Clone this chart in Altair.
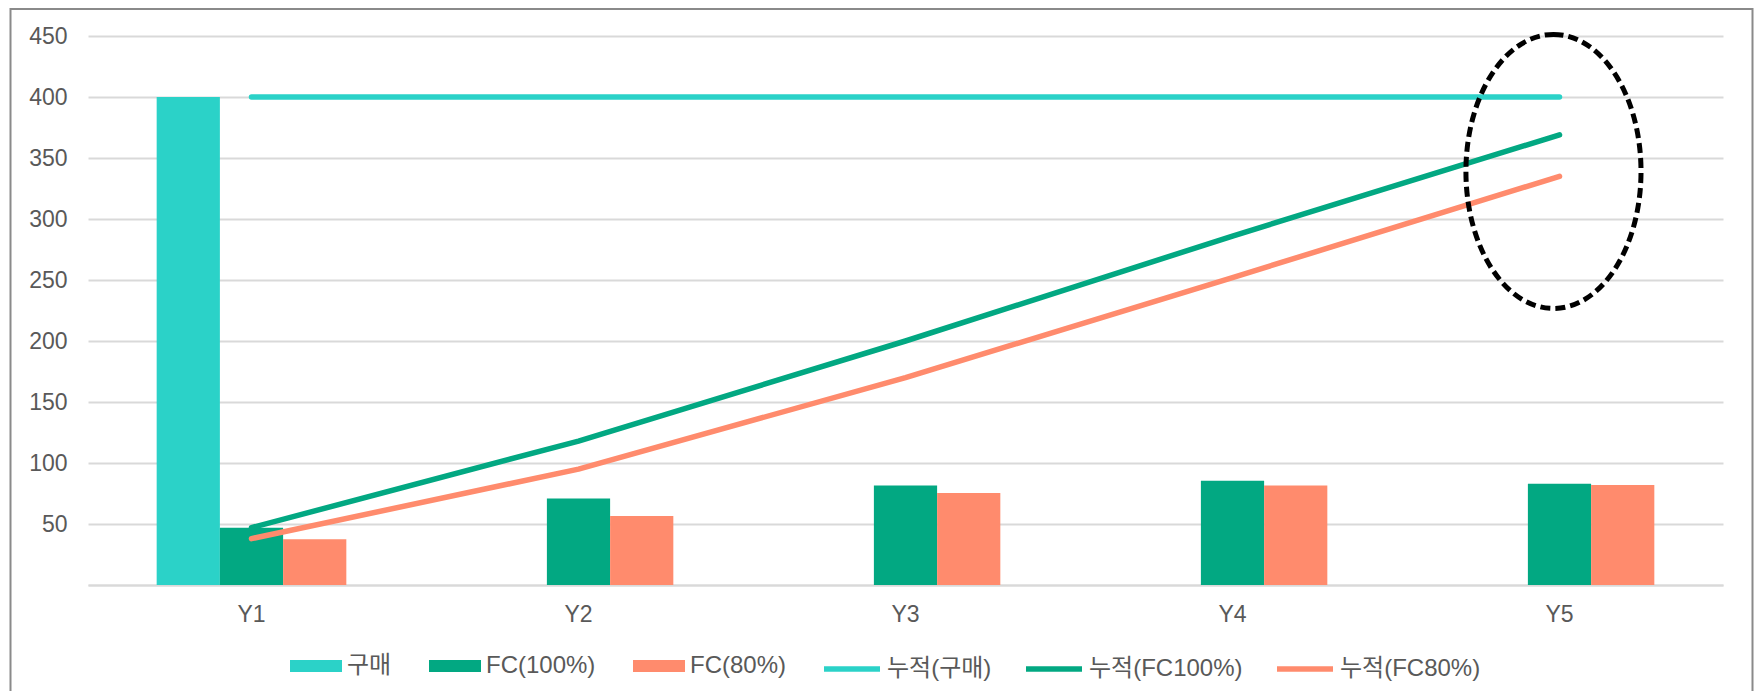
import altair as alt
import pandas as pd

categories = ["Y1", "Y2", "Y3", "Y4", "Y5"]

bar_series = ["구매", "FC(100%)", "FC(80%)"]
purchase = [400, None, None, None, None]
fc100 = [47, 71, 81.5, 85.5, 83]
fc80 = [37.5, 56.5, 75.5, 81.5, 82]

line_series = ["누적(구매)", "누적(FC100%)", "누적(FC80%)"]
cum_purchase = [400, 400, 400, 400, 400]
cum_fc100 = [47, 118, 200, 286, 369]
cum_fc80 = [38, 95, 170, 252, 335]

colors = ["#2BD2C8", "#02A882", "#FF8B6D"]

y_ticks = [0, 50, 100, 150, 200, 250, 300, 350, 400, 450]

# highlight annotation around Y5 cumulative values
note_cat = ["Y5"]
note_val = [339]

FONT = "'Liberation Sans', 'Noto Sans CJK KR', sans-serif"
TEXT = "#595959"
GRID = "#D9D9D9"

bar_rows = []
for s, vals in zip(bar_series, [purchase, fc100, fc80]):
    for c, v in zip(categories, vals):
        if v is not None:
            bar_rows.append({"cat": c, "series": s, "value": v})
bars_df = pd.DataFrame(bar_rows)

line_rows = []
for s, vals in zip(line_series, [cum_purchase, cum_fc100, cum_fc80]):
    for c, v in zip(categories, vals):
        line_rows.append({"cat": c, "series": s, "value": v})
lines_df = pd.DataFrame(line_rows)

note_df = pd.DataFrame({"cat": note_cat, "value": note_val})

x_scale = alt.Scale(domain=categories, paddingInner=0.42, paddingOuter=0.21)
y_scale = alt.Scale(domain=[0, 450], nice=False)

x_enc = alt.X(
    "cat:N",
    scale=x_scale,
    sort=categories,
    axis=alt.Axis(
        title=None, ticks=False, domain=True, domainColor=GRID, domainWidth=2,
        labelFont=FONT, labelFontSize=23, labelColor=TEXT, labelPadding=18,
        labelAngle=0,
    ),
)
y_enc = alt.Y(
    "value:Q",
    scale=y_scale,
    axis=alt.Axis(
        title=None, values=y_ticks, ticks=False, domain=False,
        grid=True, gridColor=GRID, gridWidth=2,
        labelFont=FONT, labelFontSize=23, labelColor=TEXT, labelPadding=21,
        labelExpr="datum.value == 0 ? '' : datum.label",
    ),
)

bars = alt.Chart(bars_df).mark_bar().encode(
    x=x_enc,
    xOffset=alt.XOffset("series:N", scale=alt.Scale(domain=bar_series, paddingInner=0, paddingOuter=0), sort=bar_series),
    y=y_enc,
    color=alt.Color(
        "series:N",
        scale=alt.Scale(domain=bar_series, range=colors),
        sort=bar_series,
        legend=alt.Legend(
            title=None, orient="none", direction="horizontal",
            legendX=202, legendY=604, padding=0,
            symbolType="M -1 -0.23 H 1 V 0.23 H -1 Z", symbolSize=2704,
            symbolStrokeWidth=0,
            labelFont=FONT, labelFontSize=24, labelColor=TEXT,
            labelOffset=5, columnPadding=37,
        ),
    ),
)

lines = alt.Chart(lines_df).mark_line(strokeWidth=5.5, strokeCap="round", strokeJoin="round").encode(
    x=x_enc,
    y=y_enc,
    stroke=alt.Stroke(
        "series:N",
        scale=alt.Scale(domain=line_series, range=colors),
        sort=line_series,
        legend=alt.Legend(
            title=None, orient="none", direction="horizontal",
            legendX=733, legendY=602, padding=0,
            symbolType="stroke", symbolSize=3136, symbolStrokeWidth=5.5,
            labelFont=FONT, labelFontSize=24, labelColor=TEXT,
            labelOffset=4, columnPadding=23,
        ),
    ),
)

ellipse_path = "M -0.044 -1 A 0.639 1 0 1 1 -0.044 1 A 0.639 1 0 1 1 -0.044 -1 Z"
note = alt.Chart(note_df).mark_point(
    shape=ellipse_path, filled=False, stroke="black", strokeWidth=5,
    strokeDash=[10, 5], size=75076, opacity=1,
).encode(x=x_enc, y=y_enc)

frame = alt.Chart(alt.Data(values=[{"k": 1}])).mark_rect(
    fill="transparent", stroke="#8A8A8A", strokeWidth=2,
).encode(
    x=alt.value(-77.5), x2=alt.value(1664.5), y=alt.value(-27), y2=alt.value(700),
)

chart = alt.layer(bars, lines, note, frame).properties(
    width=1635,
    height=549,
    padding={"left": 80, "top": 28, "right": 31, "bottom": 106},
    autosize=alt.AutoSizeParams(type="none"),
    background="white",
).configure_view(stroke=None)

chart.save("out.html", embed_options={"renderer": "svg", "actions": False})
